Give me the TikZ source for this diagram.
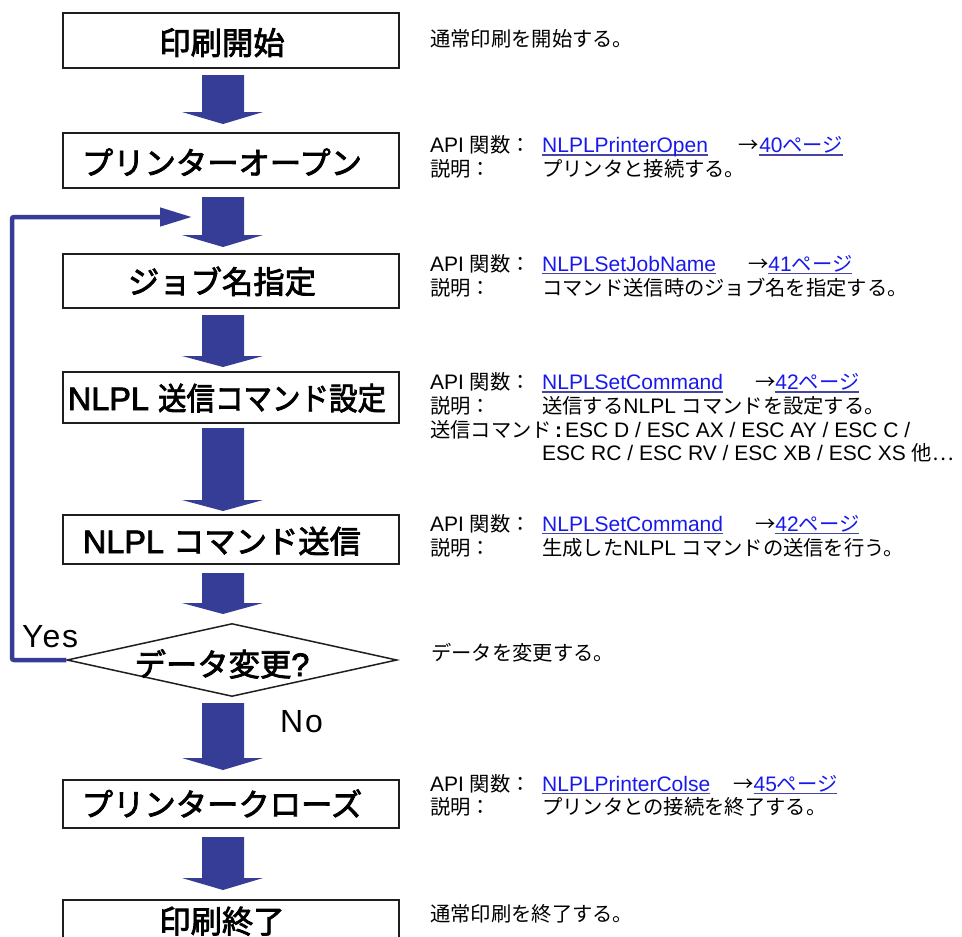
\documentclass[tikz,border=0pt]{standalone}
\usepackage{graphicx}
\usepackage{fontspec}
\setmainfont{Liberation Sans}
\newfontfamily\jp{Noto Sans CJK JP}[Scale=0.967]
\newfontfamily\jpm{Noto Sans CJK JP}[Scale=0.967,FakeBold=2.5]
\newfontfamily\lsm{Liberation Sans}[FakeBold=2.5]
\newfontfamily\ynfont{Liberation Sans}[LetterSpace=6]
\usetikzlibrary{arrows.meta,shapes.geometric}
\definecolor{arrowblue}{RGB}{53,61,150}
\definecolor{linkblue}{RGB}{25,25,235}
\definecolor{ulblue}{RGB}{70,70,160}
\definecolor{boxline}{RGB}{30,30,30}
\newcommand\J[1]{{\jp #1}}
\newcommand\M[1]{{\jpm #1}}
\newcommand\lnk[1]{\setbox0\hbox{#1}\rlap{\color{ulblue}\rule[-3pt]{\wd0}{1.3pt}}\textcolor{linkblue}{\box0}}
\newcommand\lab[1]{\makebox[112pt][l]{#1}}
\newcommand\fatarrow[3]{\fill[arrowblue] (202,#1) -- (244,#1) -- (244,#2) -- (263,#2) -- (223,#3) -- (182,#2) -- (202,#2) -- cycle;}
\tikzset{
  box/.style={draw=boxline, line width=2pt, minimum width=336pt, inner sep=0pt},
  btxt/.style={anchor=base, inner sep=0pt, font=\fontsize{32.4pt}{36pt}\selectfont\lsm},
  rt/.style={anchor=base west, inner sep=0pt, font=\fontsize{21pt}{24pt}\selectfont},
  yn/.style={anchor=base west, inner sep=0pt, font=\fontsize{32pt}{36pt}\selectfont\ynfont},
  fb/.style={draw=arrowblue, line width=4.5pt, rounded corners=2pt, -{Triangle[length=32pt,width=18pt]}}
}
\begin{document}
\begin{tikzpicture}[x=1pt,y=-1pt]
\useasboundingbox (0,0) rectangle (962,937);
\clip (0,0) rectangle (962,937);
% boxes
\node[box, minimum height=55pt] (b1) at (231,40.5) {};
\node[box, minimum height=55pt] (b2) at (231,160.5) {};
\node[box, minimum height=54pt] (b3) at (231,281) {};
\node[box, minimum height=51pt] (b4) at (231,397.5) {};
\node[box, minimum height=49pt] (b5) at (231,539.5) {};
\node[draw=boxline, line width=1.5pt, diamond, aspect=4.5, minimum width=330pt, minimum height=73pt, inner sep=0pt] (dia) at (232,660) {};
\node[box, minimum height=48pt] (b7) at (231,804) {};
\node[box, minimum height=55pt] (b8) at (231,927.5) {};
% box texts
\node[btxt] (l1) at (222,54.5) {\M{印刷開始}};
\node[btxt] (l2) at (222,174.5) {\M{プリンターオープン}};
\node[btxt] (l3) at (222,293.5) {\M{ジョブ名指定}};
\node[btxt] (l4) at (227,410) {NLPL \scalebox{0.91}[1]{\M{送信コマンド設定}}};
\node[btxt] (l5) at (222,553) {NLPL \M{コマンド送信}};
\node[btxt] (l6) at (222,676) {\M{データ変更}?};
\node[btxt] (l7) at (222,816) {\M{プリンタークローズ}};
\node[btxt] (l8) at (222,933) {\M{印刷終了}};
% fat arrows
\fatarrow{75}{112}{124}
\fatarrow{197}{235}{247}
\fatarrow{315}{356}{367}
\fatarrow{428}{500}{511}
\fatarrow{573}{603}{614}
\fatarrow{703}{758}{770}
\fatarrow{837}{878}{890}
% feedback loop
\coordinate (fbl) at (12,660);
\coordinate (fbend) at (192,217);
\draw[fb] (dia.west) -- (fbl) |- (fbend);
\node[yn] (yes) at (22,647) {Yes};
\node[yn] (no) at (280,732) {No};
% right column
\node[rt] (t1) at (430,46) {\J{通常印刷を開始する。}};
\node[rt] (t2a) at (430,152.5) {\lab{API \J{関数：}}\lnk{NLPLPrinterOpen}\hspace{31pt}\J{→}\lnk{40\J{ページ}}};
\node[rt] (t2b) at (430,176) {\lab{\J{説明：}}\J{プリンタと接続する。}};
\node[rt] (t3a) at (430,271) {\lab{API \J{関数：}}\lnk{NLPLSetJobName}\hspace{32pt}\J{→}\lnk{41\J{ページ}}};
\node[rt] (t3b) at (430,295) {\lab{\J{説明：}}\J{コマンド送信時のジョブ名を指定する。}};
\node[rt] (t4a) at (430,389.5) {\lab{API \J{関数：}}\lnk{NLPLSetCommand}\hspace{32pt}\J{→}\lnk{42\J{ページ}}};
\node[rt] (t4b) at (430,413) {\lab{\J{説明：}}\J{送信する}NLPL \J{コマンドを設定する。}};
\node[rt] (t4c) at (430,437) {\makebox[135pt][l]{\J{送信コマンド}\hfill\textbf{:}\hspace{3pt}}ESC D / ESC AX / ESC AY / ESC C /};
\node[rt] (t4d) at (542,460) {ESC RC / ESC RV / ESC XB / ESC XS \J{他…}};
\node[rt] (t5a) at (430,531) {\lab{API \J{関数：}}\lnk{NLPLSetCommand}\hspace{32pt}\J{→}\lnk{42\J{ページ}}};
\node[rt] (t5b) at (430,555) {\lab{\J{説明：}}\J{生成した}NLPL \J{コマンドの送信を行う。}};
\node[rt] (t6) at (431,660) {\J{データを変更する。}};
\node[rt] (t7a) at (430,791) {\lab{API \J{関数：}}\lnk{NLPLPrinterColse}\hspace{23pt}\J{→}\lnk{45\J{ページ}}};
\node[rt] (t7b) at (430,814) {\lab{\J{説明：}}\J{プリンタとの接続を終了する。}};
\node[rt] (t8) at (430,921) {\J{通常印刷を終了する。}};
\end{tikzpicture}
\end{document}
